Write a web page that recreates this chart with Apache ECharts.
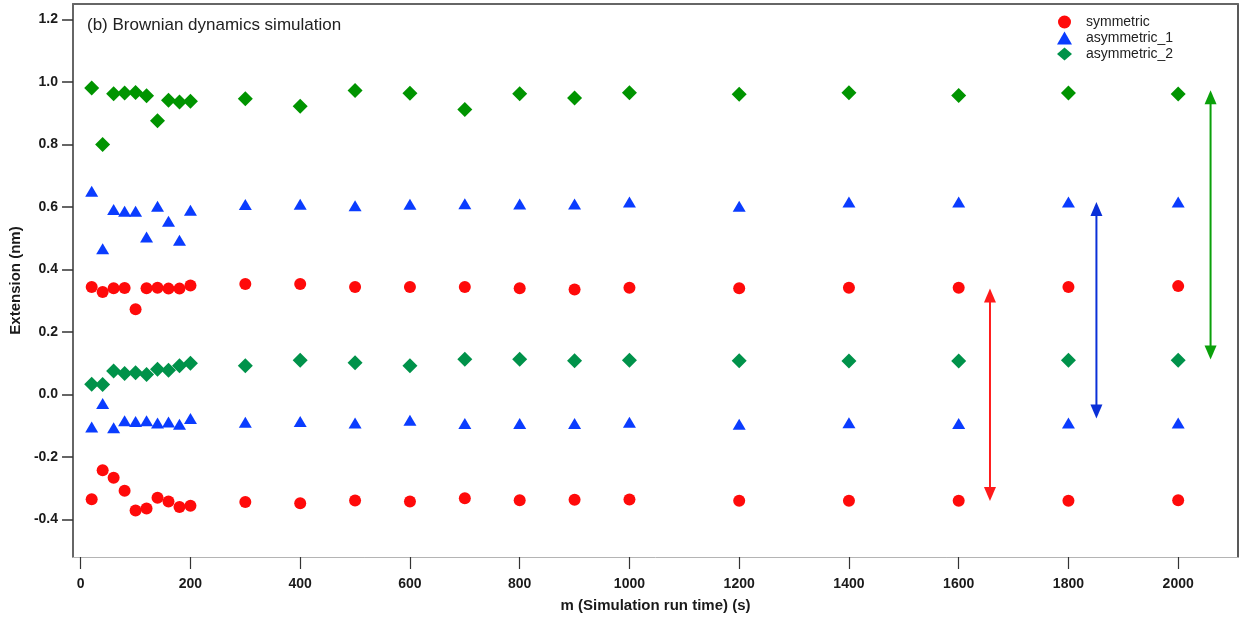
<!DOCTYPE html>
<html>
<head>
<meta charset="utf-8">
<script src="https://cdn.jsdelivr.net/npm/echarts@6/dist/echarts.min.js"></script>
<style>
  html, body { margin: 0; padding: 0; background: #fff; }
  #chart { width: 1242px; height: 619px; }
</style>
</head>
<body>
<div id="chart"></div>
<script>
// Simulation run times (s)
const runTimes = [20, 40, 60, 80, 100, 120, 140, 160, 180, 200, 300, 400, 500, 600, 700, 800, 900, 1000, 1200, 1400, 1600, 1800, 2000];

// Extension (nm): each model has an upper and a lower branch
const symUpper = [0.344, 0.328, 0.340, 0.341, 0.273, 0.340, 0.342, 0.339, 0.339, 0.349, 0.354, 0.354, 0.344, 0.344, 0.344, 0.340, 0.336, 0.342, 0.340, 0.342, 0.342, 0.344, 0.347];
const symLower = [-0.335, -0.242, -0.266, -0.308, -0.371, -0.365, -0.330, -0.342, -0.360, -0.356, -0.344, -0.348, -0.339, -0.342, -0.332, -0.338, -0.337, -0.336, -0.340, -0.340, -0.340, -0.340, -0.338];
const asym1Upper = [0.651, 0.467, 0.592, 0.587, 0.587, 0.504, 0.603, 0.555, 0.494, 0.590, 0.608, 0.609, 0.604, 0.609, 0.611, 0.610, 0.610, 0.616, 0.603, 0.616, 0.616, 0.616, 0.616];
const asym1Lower = [-0.104, -0.029, -0.106, -0.084, -0.086, -0.084, -0.091, -0.088, -0.095, -0.077, -0.089, -0.086, -0.091, -0.082, -0.093, -0.093, -0.093, -0.089, -0.095, -0.090, -0.093, -0.091, -0.091];
const asym2Upper = [0.981, 0.800, 0.963, 0.965, 0.967, 0.956, 0.876, 0.942, 0.936, 0.939, 0.947, 0.923, 0.973, 0.964, 0.912, 0.963, 0.949, 0.966, 0.961, 0.966, 0.957, 0.965, 0.962];
const asym2Lower = [0.033, 0.032, 0.075, 0.067, 0.070, 0.064, 0.081, 0.078, 0.092, 0.100, 0.092, 0.110, 0.102, 0.092, 0.113, 0.113, 0.108, 0.110, 0.108, 0.107, 0.107, 0.110, 0.110];

// Double-headed range arrows: [run time, upper tip, lower tip]
const arrowRed = [1657, 0.339, -0.341];
const arrowBlue = [1851, 0.616, -0.077];
const arrowGreen = [2059, 0.974, 0.112];

// Axis tick values
const xTicks = [0, 200, 400, 600, 800, 1000, 1200, 1400, 1600, 1800, 2000];
const yTicks = [-0.4, -0.2, 0.0, 0.2, 0.4, 0.6, 0.8, 1.0, 1.2];

const seriesNames = ['symmetric', 'asymmetric_1', 'asymmetric_2'];

const RED = '#ff0a0a';
const BLUE = '#0a3cff';
const GREEN_LOW = '#00924a';
const GREEN_UP = '#009400';

const pairs = (ys) => runTimes.map((t, i) => [t, ys[i]]);

const chart = echarts.init(document.getElementById('chart'), null, { renderer: 'canvas' });

const tickFont = { fontFamily: '"Liberation Sans", Arial, sans-serif', fontWeight: 'bold', fontSize: 14, color: '#1a1a1a' };

function renderArrow(params, api) {
  const x = api.value(0);
  const top = api.coord([x, api.value(1)]);
  const bot = api.coord([x, api.value(2)]);
  const color = api.visual('color');
  const hw = 6, hl = 14;
  return {
    type: 'group',
    children: [
      { type: 'line', shape: { x1: top[0], y1: top[1] + hl - 2, x2: bot[0], y2: bot[1] - hl + 2 },
        style: { stroke: color, lineWidth: 2 } },
      { type: 'polygon', shape: { points: [[top[0], top[1]], [top[0] - hw, top[1] + hl], [top[0] + hw, top[1] + hl]] },
        style: { fill: color } },
      { type: 'polygon', shape: { points: [[bot[0], bot[1]], [bot[0] - hw, bot[1] - hl], [bot[0] + hw, bot[1] - hl]] },
        style: { fill: color } }
    ]
  };
}

const arrowSeries = (arr, color) => ({
  type: 'custom',
  silent: true,
  renderItem: renderArrow,
  itemStyle: { color: color },
  encode: { x: 0, y: [1, 2] },
  data: [arr],
  z: 3
});

chart.setOption({
  animation: false,
  backgroundColor: '#ffffff',
  grid: { left: 71, right: 4, top: 4, bottom: 62, containLabel: false },
  title: {
    text: '(b) Brownian dynamics simulation',
    left: 82, top: 12,
    textStyle: { fontFamily: '"Liberation Sans", Arial, sans-serif', fontWeight: 'normal', fontSize: 17, color: '#222' }
  },
  legend: {
    data: seriesNames,
    orient: 'vertical',
    left: 1052, top: 10,
    itemWidth: 15, itemHeight: 13, itemGap: 2,
    selectedMode: false,
    textStyle: { fontFamily: '"Liberation Sans", Arial, sans-serif', fontSize: 14, color: '#222', padding: [0, 0, 0, 9] }
  },
  xAxis: [
    {
      type: 'value', min: -14, max: 2109,
      position: 'bottom',
      name: 'm (Simulation run time) (s)',
      nameLocation: 'middle', nameGap: 41,
      nameTextStyle: { fontFamily: '"Liberation Sans", Arial, sans-serif', fontWeight: 'bold', fontSize: 15, color: '#1a1a1a' },
      axisLine: { show: true, onZero: false, lineStyle: { color: '#b4b4b4', width: 1 } },
      axisTick: { show: true, inside: false, length: 12, customValues: xTicks, lineStyle: { color: '#333', width: 1.2 } },
      axisLabel: { customValues: xTicks, margin: 20, ...tickFont, formatter: (v) => String(v) },
      splitLine: { show: false }
    },
    {
      type: 'value', min: -14, max: 2109,
      position: 'top',
      axisLine: { show: true, onZero: false, lineStyle: { color: '#666', width: 2 } },
      axisTick: { show: false }, axisLabel: { show: false }, splitLine: { show: false }
    }
  ],
  yAxis: [
    {
      type: 'value', min: -0.52, max: 1.25,
      position: 'left',
      name: 'Extension (nm)',
      nameLocation: 'middle', nameGap: 47, nameRotate: 90,
      nameTextStyle: { fontFamily: '"Liberation Sans", Arial, sans-serif', fontWeight: 'bold', fontSize: 15, color: '#1a1a1a' },
      axisLine: { show: true, onZero: false, lineStyle: { color: '#666', width: 2 } },
      axisTick: { show: true, inside: false, length: 11, customValues: yTicks, lineStyle: { color: '#333', width: 1.5 } },
      axisLabel: { customValues: yTicks, margin: 15, ...tickFont, formatter: (v) => v.toFixed(1) },
      splitLine: { show: false }
    },
    {
      type: 'value', min: -0.52, max: 1.25,
      position: 'right',
      axisLine: { show: true, onZero: false, lineStyle: { color: '#222', width: 1.5 } },
      axisTick: { show: false }, axisLabel: { show: false }, splitLine: { show: false }
    }
  ],
  series: [
    { name: 'symmetric', type: 'scatter', symbol: 'circle', symbolSize: 12, itemStyle: { color: RED, opacity: 1 }, data: pairs(symUpper), z: 4 },
    { name: 'symmetric', type: 'scatter', symbol: 'circle', symbolSize: 12, itemStyle: { color: RED, opacity: 1 }, data: pairs(symLower), z: 4 },
    { name: 'asymmetric_1', type: 'scatter', symbol: 'triangle', symbolSize: [13, 11], itemStyle: { color: BLUE, opacity: 1 }, data: pairs(asym1Upper), z: 4 },
    { name: 'asymmetric_1', type: 'scatter', symbol: 'triangle', symbolSize: [13, 11], itemStyle: { color: BLUE, opacity: 1 }, data: pairs(asym1Lower), z: 4 },
    { name: 'asymmetric_2', type: 'scatter', symbol: 'diamond', symbolSize: 15, itemStyle: { color: GREEN_LOW, opacity: 1 }, data: pairs(asym2Lower), z: 4 },
    { name: 'asymmetric_2', type: 'scatter', symbol: 'diamond', symbolSize: 15, itemStyle: { color: GREEN_UP, opacity: 1 }, data: pairs(asym2Upper), z: 4 },
    arrowSeries(arrowRed, '#ff1a1a'),
    arrowSeries(arrowBlue, '#0a30d8'),
    arrowSeries(arrowGreen, '#0aa00a')
  ]
});
</script>
</body>
</html>
